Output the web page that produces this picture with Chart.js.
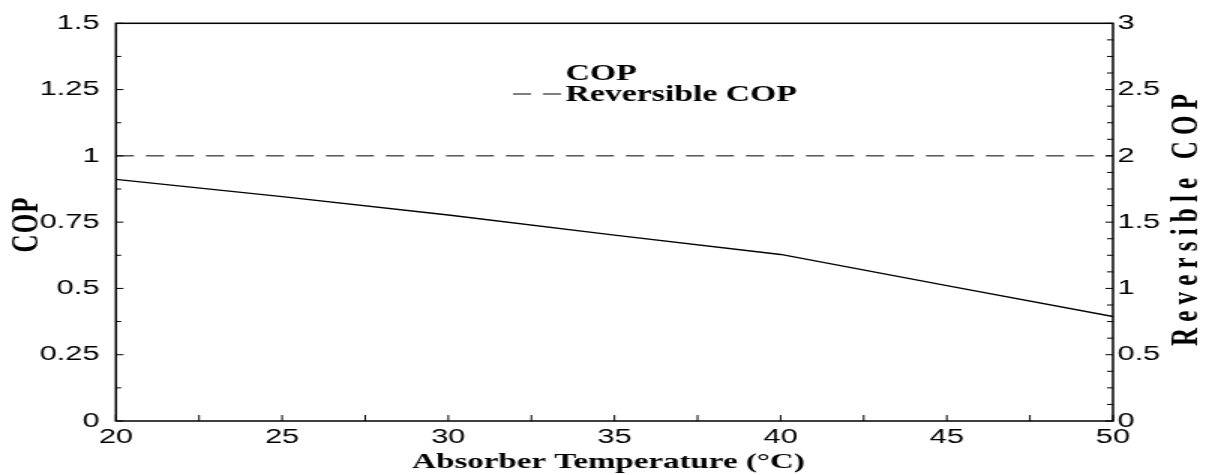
<!DOCTYPE html>
<html>
<head>
<meta charset="utf-8">
<script src="https://cdn.jsdelivr.net/npm/chart.js@4.4.1/dist/chart.umd.min.js"></script>
<style>
    html, body { margin: 0; padding: 0; background: #fff; overflow: hidden; }
    /* the original figure is stretched sideways, so draw narrow and widen */
    #wrap { width: 804px; height: 475px; transform: scaleX(1.5); transform-origin: 0 0; }
</style>
</head>
<body>
<div id="wrap"><canvas id="chart1" width="804" height="475"></canvas></div>
<script>
var temperaturas = [20, 25, 30, 35, 40, 45, 50];
var cop = [0.911, 0.846, 0.777, 0.701, 0.628, 0.511, 0.394];
var copReversivel = [2, 2, 2, 2, 2, 2, 2];

var ticksX = [20, 25, 30, 35, 40, 45, 50];
var ticksEsq = [0, 0.25, 0.5, 0.75, 1, 1.25, 1.5];
var ticksDir = [0, 0.5, 1, 1.5, 2, 2.5, 3];

var tituloX = 'Absorber Temperature (°C)';
var tituloEsq = 'COP';
var tituloDir = 'Reversible COP';

var fonteTick = { family: 'Liberation Sans, Arial, sans-serif', size: 20.5 };
var serifBold = 'Liberation Serif, Times New Roman, serif';

function marcaTicks(ctx, scale, subdiv, lenMaior, lenMenor) {
    var a = scale.chart.chartArea;
    var vals = scale.ticks.map(function (t) { return t.value; });
    function marca(v, len) {
        var p = scale.getPixelForValue(v);
        ctx.beginPath();
        if (scale.axis === 'x') {
            ctx.moveTo(p, a.bottom); ctx.lineTo(p, a.bottom - len);
        } else if (scale.position === 'left') {
            ctx.moveTo(a.left, p); ctx.lineTo(a.left + len, p);
        } else {
            ctx.moveTo(a.right, p); ctx.lineTo(a.right - len, p);
        }
        ctx.stroke();
    }
    vals.forEach(function (v, i) {
        marca(v, lenMaior);
        if (i < vals.length - 1) {
            for (var k = 1; k <= subdiv; k++) {
                marca(v + (vals[i + 1] - v) * k / (subdiv + 1), lenMenor);
            }
        }
    });
}

function textoVertical(ctx, txt, x, y, tamanho, comprimento) {
    ctx.save();
    ctx.translate(x, y);
    ctx.rotate(-Math.PI / 2);
    ctx.font = 'bold ' + tamanho + 'px ' + serifBold;
    ctx.letterSpacing = '0px';
    var w = ctx.measureText(txt).width;
    var esp = Math.max(0, (comprimento - w) / (txt.length - 1));
    ctx.letterSpacing = esp + 'px';
    ctx.textAlign = 'left';
    ctx.textBaseline = 'alphabetic';
    ctx.fillText(txt, -comprimento / 2, 0);
    ctx.restore();
}

var moldura = {
    id: 'moldura',
    afterDraw: function (chart) {
        var ctx = chart.ctx, a = chart.chartArea;
        ctx.save();
        ctx.strokeStyle = '#000';
        ctx.lineWidth = 1.5;
        ctx.strokeRect(a.left, a.top, a.right - a.left, a.bottom - a.top);
        ctx.lineWidth = 1;
        marcaTicks(ctx, chart.scales.x, 1, 6, 6);
        marcaTicks(ctx, chart.scales.y, 1, 5, 3.5);
        marcaTicks(ctx, chart.scales.y1, 3, 5, 4);

        // legenda
        ctx.fillStyle = '#000';
        ctx.font = 'bold 22.5px ' + serifBold;
        ctx.textBaseline = 'alphabetic';
        ctx.textAlign = 'left';
        var linhas = [80, 101];
        chart.data.datasets.forEach(function (ds, i) {
            var y = linhas[i];
            if (ds.amostraLegenda) {
                ctx.save();
                ctx.lineWidth = ds.borderWidth;
                ctx.setLineDash(ds.borderDash || []);
                ctx.beginPath();
                ctx.moveTo(342, y - 7);
                ctx.lineTo(375, y - 7);
                ctx.stroke();
                ctx.restore();
            }
            ctx.fillText(ds.label, 377, y);
        });

        // titulos dos eixos
        ctx.textAlign = 'center';
        ctx.font = 'bold 22px ' + serifBold;
        ctx.fillText(tituloX, (a.left + a.right) / 2 - 4, 468);
        textoVertical(ctx, tituloEsq, 24.5, 225, 25, 55);
        textoVertical(ctx, tituloDir, 798, 220, 25, 252);
        ctx.restore();
    }
};

var ctx1 = document.getElementById('chart1').getContext('2d');
var chart1 = new Chart(ctx1, {
    type: 'line',
    data: {
        labels: temperaturas,
        datasets: [{
            label: 'COP',
            data: cop,
            yAxisID: 'y',
            borderColor: '#000',
            borderWidth: 1.3,
            pointRadius: 0,
            tension: 0,
            amostraLegenda: false
        }, {
            label: 'Reversible COP',
            data: copReversivel,
            yAxisID: 'y1',
            borderColor: '#000',
            borderWidth: 1,
            borderDash: [12, 8],
            pointRadius: 0,
            tension: 0,
            amostraLegenda: true
        }]
    },
    options: {
        responsive: false,
        animation: false,
        devicePixelRatio: 1,
        layout: { padding: { top: 18, left: 0, right: 0, bottom: 0 } },
        plugins: { legend: { display: false }, tooltip: { enabled: false } },
        scales: {
            x: {
                type: 'linear',
                min: 20, max: 50,
                afterBuildTicks: function (s) { s.ticks = ticksX.map(function (v) { return { value: v }; }); },
                afterFit: function (s) { s.height = 54; },
                grid: { display: false, drawTicks: false },
                border: { display: false },
                ticks: { color: '#000', font: fonteTick, padding: 4, maxRotation: 0,
                    callback: function (v) { return String(v); } }
            },
            y: {
                position: 'left',
                min: 0, max: 1.5,
                afterBuildTicks: function (s) { s.ticks = ticksEsq.map(function (v) { return { value: v }; }); },
                afterFit: function (s) { s.width = 77.3; },
                grid: { display: false, drawTicks: false },
                border: { display: false },
                ticks: { color: '#000', font: fonteTick, padding: 11,
                    callback: function (v) { return String(v); } }
            },
            y1: {
                position: 'right',
                min: 0, max: 3,
                afterBuildTicks: function (s) { s.ticks = ticksDir.map(function (v) { return { value: v }; }); },
                afterFit: function (s) { s.width = 62; },
                grid: { display: false, drawTicks: false },
                border: { display: false },
                ticks: { color: '#000', font: fonteTick, padding: 3,
                    callback: function (v) { return String(v); } }
            }
        }
    },
    plugins: [moldura]
});
</script>
</body>
</html>
